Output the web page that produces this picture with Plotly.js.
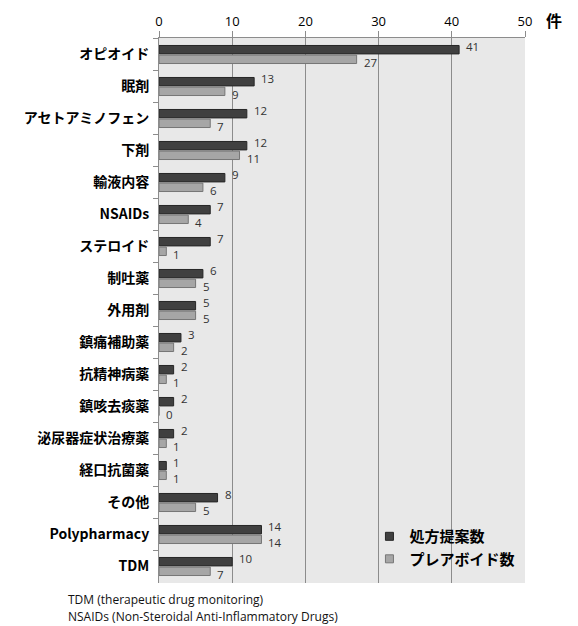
<!DOCTYPE html>
<html>
<head>
<meta charset="utf-8">
<script src="https://cdn.plot.ly/plotly-3.0.1.min.js"></script>
<style>html,body{margin:0;padding:0;background:#fff;}#chart{width:578px;height:626px;}</style>
</head>
<body>
<div id="chart"></div>
<script>
const categories = ["オピオイド","眠剤","アセトアミノフェン","下剤","輸液内容","NSAIDs","ステロイド","制吐薬","外用剤","鎮痛補助薬","抗精神病薬","鎮咳去痰薬","泌尿器症状治療薬","経口抗菌薬","その他","Polypharmacy","TDM"];
const proposals = [41,13,12,12,9,7,7,6,5,3,2,2,2,1,8,14,10];
const preavoid = [27,9,7,11,6,4,1,5,5,2,1,0,1,1,5,14,7];
const seriesNames = ["処方提案数","プレアボイド数"];
const xTicks = [0,10,20,30,40,50];
const unitLabel = "件";
const notes = ["TDM (therapeutic drug monitoring)","NSAIDs (Non-Steroidal Anti-Inflammatory Drugs)"];

const fillColors = ["#404040","#a6a6a6"];
const lineColors = ["#262626","#767676"];
const valFont = {family:"Open Sans, Liberation Sans, sans-serif", size:11.5, color:"#333"};
const series = [proposals, preavoid];
const labelShift = [8, -8];
const traces = [];
const annotations = [];
series.forEach((vals, i) => {
  traces.push({type:"bar", orientation:"h", name:seriesNames[i], y:categories, x:vals, showlegend:false,
    marker:{color:fillColors[i], line:{color:lineColors[i], width:1}}});
  vals.forEach((v, k) => {
    annotations.push({x:v, y:categories[k], xref:"x", yref:"y", text:String(v), showarrow:false,
      xanchor:"left", yanchor:"middle", xshift:6, yshift:labelShift[i], borderpad:0, font:valFont});
  });
});
series.forEach((vals, i) => {
  traces.push({type:"scatter", mode:"markers", name:seriesNames[i], x:[null], y:[null], legendgroup:"g"+i,
    marker:{symbol:"square", size:8, color:fillColors[i], line:{color:lineColors[i], width:1}}});
});
annotations.push(
  {text:unitLabel, xref:"paper", yref:"paper", x:1.08, y:1.033, xanchor:"center", yanchor:"middle",
   showarrow:false, font:{family:"Noto Sans CJK JP, sans-serif", size:16, color:"#000", weight:"bold"}},
  {text:notes[0], xref:"paper", yref:"paper", x:-0.254, y:-0.031, xanchor:"left", yanchor:"middle",
   showarrow:false, font:{family:"Open Sans, Liberation Sans, sans-serif", size:12, color:"#111"}},
  {text:notes[1], xref:"paper", yref:"paper", x:-0.254, y:-0.062, xanchor:"left", yanchor:"middle",
   showarrow:false, font:{family:"Open Sans, Liberation Sans, sans-serif", size:12, color:"#111"}}
);
const layout = {
  width:578, height:626,
  margin:{l:159, r:53, t:38, b:43},
  paper_bgcolor:"#ffffff", plot_bgcolor:"#e8e8e8",
  barmode:"group", bargap:0.4, bargroupgap:0.12,
  font:{family:"Noto Sans CJK JP, sans-serif", color:"#000"},
  xaxis:{side:"top", range:[0,50], tickvals:xTicks, ticktext:xTicks.map(String),
    showgrid:true, gridcolor:"#8c8c8c", gridwidth:1, zeroline:false,
    showline:true, linecolor:"#8c8c8c", ticks:"outside", ticklen:6, tickcolor:"#8c8c8c",
    tickfont:{family:"Open Sans, Liberation Sans, sans-serif", size:13, color:"#000"}, fixedrange:true},
  yaxis:{type:"category", autorange:"reversed", showline:true, linecolor:"#8c8c8c",
    ticks:"outside", tickson:"boundaries", ticklen:5, tickcolor:"#8c8c8c", showgrid:false,
    tickfont:{family:"Noto Sans CJK JP, sans-serif", size:14, color:"#000", weight:"bold"}, ticklabelstandoff:6},
  legend:{x:0.575, y:0.065, xanchor:"left", yanchor:"middle", bgcolor:"rgba(0,0,0,0)",
    traceorder:"normal", font:{family:"Noto Sans CJK JP, sans-serif", size:15, color:"#000", weight:"bold"},
    itemwidth:30, tracegroupgap:11},
  annotations:annotations
};
Plotly.newPlot("chart", traces, layout, {displayModeBar:false, staticPlot:true});
</script>
</body>
</html>
